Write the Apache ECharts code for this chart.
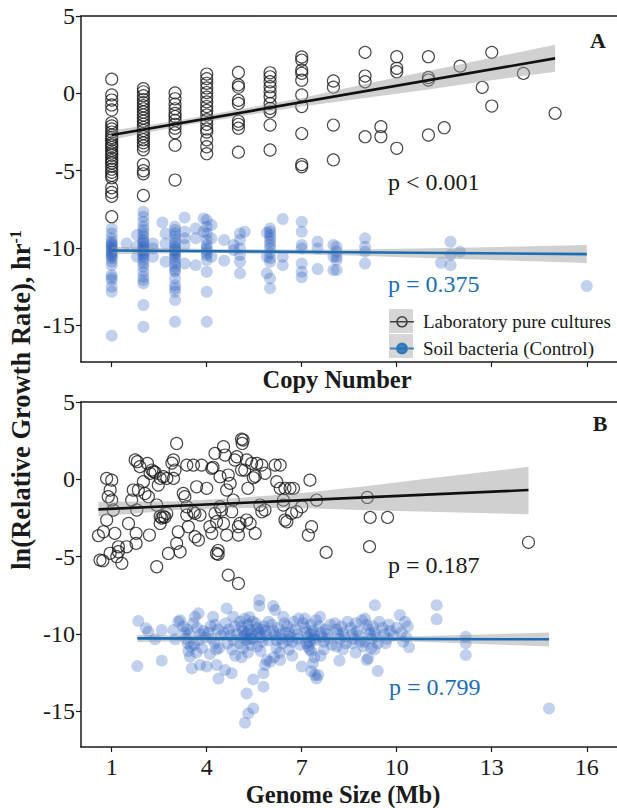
<!DOCTYPE html>
<html><head><meta charset="utf-8">
<script src="https://cdn.jsdelivr.net/npm/echarts@6/dist/echarts.min.js"></script>
<style>html,body{margin:0;padding:0;background:#fff}#c{width:617px;height:808px}</style>
</head><body><div id="c"></div>
<script>
// ---- data ----
const xTicks = [1, 4, 7, 10, 13, 16];
const yTicks = [-15, -10, -5, 0, 5];
const seriesNames = ['Laboratory pure cultures', 'Soil bacteria (Control)'];
const pLabels = ['p < 0.001', 'p = 0.375', 'p = 0.187', 'p = 0.799'];

// Panel A: copy number vs ln(rate), laboratory pure cultures
const labA = [
[1,0.92],[1,-0.1],[1,-0.43],[1,-0.75],[1,-1.07],[1,-1.9],[1,-2.1],[1,-2.3],[1,-2.5],[1,-2.7],[1,-2.85],[1,-3.0],[1,-3.2],[1,-3.35],[1,-3.5],[1,-3.7],[1,-3.85],[1,-4.0],[1,-4.2],[1,-4.35],[1,-4.5],[1,-4.7],[1,-4.9],[1,-5.1],[1,-5.3],[1,-5.45],[1,-6.1],[1,-6.4],[1,-6.65],[1,-7.97],
[2,0.3],[2,0.1],[2,-0.15],[2,-0.4],[2,-0.6],[2,-0.8],[2,-1.0],[2,-1.2],[2,-1.4],[2,-1.6],[2,-1.8],[2,-2.0],[2,-2.2],[2,-2.4],[2,-2.6],[2,-2.8],[2,-3.0],[2,-3.2],[2,-3.4],[2,-3.65],[2,-4.6],[2,-5.0],[2,-5.2],[2,-6.6],
[3,0.03],[3,-0.35],[3,-0.7],[3,-1.0],[3,-1.3],[3,-1.5],[3,-1.75],[3,-2.0],[3,-2.25],[3,-2.55],[3,-3.35],[3,-5.6],
[4,1.25],[4,0.95],[4,0.65],[4,0.35],[4,0.05],[4,-0.25],[4,-0.55],[4,-0.85],[4,-1.1],[4,-1.4],[4,-1.7],[4,-2.0],[4,-2.3],[4,-2.5],[4,-3.0],[4,-3.45],[4,-3.9],
[5,1.35],[5,0.55],[5,0.4],[5,-0.45],[5,-0.65],[5,-1.8],[5,-2.0],[5,-2.25],[5,-3.8],
[6,1.33],[6,1.07],[6,0.75],[6,0.43],[6,0.1],[6,-0.22],[6,-0.65],[6,-0.97],[6,-1.19],[6,-2.05],[6,-3.66],
[7,2.35],[7,2.15],[7,1.5],[7,1.3],[7,0.85],[7,-0.1],[7,-0.85],[7,-2.6],[7,-4.6],[7,-4.75],
[8,0.8],[8,0.4],[8,-2.05],[8,-4.3],
[9,2.65],[9,1.12],[9,0.75],[9,-2.8],
[9.5,-2.15],[9.5,-2.8],
[10,2.37],[10,1.62],[10,1.4],[10,-3.55],
[11,2.37],[11,1.03],[11,0.86],[11,-2.69],
[11.5,-2.22],[12,1.76],[12.7,0.39],[13,2.65],[13,-0.82],[14,1.29],[15,-1.29]
];

// Panel A: soil bacteria (control)
const soilA = [
[1,-8.73],[1,-9.05],[1,-9.37],[1,-9.59],[1,-9.7],[1,-9.8],[1,-9.9],[1,-10.02],[1,-10.1],[1,-10.23],[1,-10.35],[1,-10.45],[1,-10.55],[1,-10.66],[1,-10.88],[1,-11.1],[1,-11.74],[1,-11.9],[1,-12.06],[1,-12.5],[1,-12.82],[1,-15.66],
[1.47,-9.7],[1.8,-9.16],[1.8,-9.9],[1.8,-10.56],
[2,-7.65],[2,-7.97],[2,-8.3],[2,-8.62],[2,-8.83],[2,-9.05],[2,-9.26],[2,-9.48],[2,-9.6],[2,-9.7],[2,-9.91],[2,-10.0],[2,-10.13],[2,-10.2],[2,-10.34],[2,-10.45],[2,-10.56],[2,-10.77],[2,-10.99],[2,-11.2],[2,-11.53],[2,-11.85],[2,-12.07],[2,-12.28],[2,-13.68],[2,-15.08],
[2.3,-9.7],[2.3,-10.02],[2.3,-10.56],[2.6,-8.34],[2.7,-9.05],[2.7,-9.7],[2.7,-10.88],
[3,-8.62],[3,-8.83],[3,-9.05],[3,-9.26],[3,-9.48],[3,-9.7],[3,-9.91],[3,-10.0],[3,-10.13],[3,-10.2],[3,-10.34],[3,-10.45],[3,-10.56],[3,-10.77],[3,-10.99],[3,-11.2],[3,-11.42],[3,-11.53],[3,-11.96],[3,-12.39],[3,-12.6],[3,-12.82],[3,-13.36],[3,-14.76],
[3.3,-8.02],[3.3,-8.94],[3.3,-9.37],[3.3,-9.8],[3.3,-10.99],[3.65,-8.73],[3.65,-9.37],[3.65,-11.1],[3.9,-8.08],[3.9,-8.94],
[4,-8.19],[4,-8.62],[4,-9.05],[4,-9.48],[4,-9.8],[4,-10.0],[4,-10.13],[4,-10.3],[4,-10.45],[4,-10.77],[4,-11.53],[4,-12.82],[4,-14.76],
[4.15,-8.51],[4.15,-9.37],[4.15,-10.56],[4.55,-9.48],[4.55,-10.81],[4.85,-9.8],[4.85,-10.13],
[5.05,-9.05],[5.05,-9.48],[5.05,-10.02],[5.05,-10.45],[5.05,-10.88],[5.05,-11.63],[5.2,-8.94],
[5.9,-9.0],[5.9,-10.56],[5.9,-11.63],
[6,-8.73],[6,-8.94],[6,-9.16],[6,-9.37],[6,-9.59],[6,-9.8],[6,-10.02],[6,-10.34],[6,-10.66],[6,-10.88],[6,-11.96],[6,-12.6],
[6.4,-8.12],[6.4,-10.56],[6.4,-11.1],
[7,-8.3],[7,-8.94],[7,-9.8],[7,-10.02],[7,-10.99],[7,-11.53],[7,-11.89],
[7.5,-9.59],[7.5,-10.02],[7.5,-11.35],[8,-9.8],[8,-10.56],[8,-11.42],
[8.1,-9.91],[8.1,-10.23],[8.1,-10.56],[8.1,-10.77],[8.1,-11.42],
[9,-9.37],[9,-9.91],[9,-10.23],[9,-10.99],
[11.4,-10.95],[11.7,-9.59],[11.7,-10.45],[11.7,-11.1],[12,-10.23],[16,-12.45]
];

// Panel B: genome size (Mb) vs ln(rate), laboratory pure cultures
const labB = [
[0.58,-3.64],[0.74,-3.39],[0.63,-5.22],[0.72,-5.26],[0.84,0.06],[1.0,-0.05],[0.95,-0.69],[0.89,-1.12],[1.0,-1.34],[1.05,-1.98],[0.84,-2.63],[1.1,-3.49],[1.21,-4.36],[1.21,-4.68],[1.16,-5.0],[1.32,-5.43],[0.95,-4.78],
[1.47,-4.36],[1.53,-2.85],[1.63,-1.34],[1.68,-0.69],[1.74,1.25],[1.81,1.14],[1.89,0.82],[1.84,-0.69],[1.79,-1.98],[1.77,-3.49],[1.77,-4.14],
[2.0,-0.15],[2.05,-0.91],[2.13,1.03],[2.21,0.39],[2.27,0.6],[2.32,0.5],[2.37,0.45],[2.16,-1.12],[2.19,-3.6],[2.42,-5.65],[2.53,0.06],[2.47,-0.37],[2.63,0.17],[2.42,-1.66],
[2.53,-2.4],[2.58,-2.5],[2.63,-2.4],[2.68,-2.45],[2.74,-2.2],[2.53,-2.85],[2.74,0.06],[2.95,0.06],[2.95,1.25],[2.9,1.05],[3.05,2.32],[3.0,0.6],[2.79,-4.79],[3.1,-3.39],[3.16,-4.68],[3.05,-4.14],
[3.26,-0.91],[3.31,-1.12],[3.37,0.92],[3.37,-1.77],[3.37,-2.31],[3.42,-3.06],[3.58,0.92],[3.58,-2.1],[3.63,-2.2],[3.63,-3.71],[3.74,-3.92],[3.79,-2.31],[3.68,-0.48],[3.84,0.92],
[4.0,-0.58],[4.1,-3.06],[4.16,-3.49],[4.16,0.71],[4.2,0.78],[4.26,1.68],[4.31,-4.79],[4.36,-4.85],[4.42,0.17],[4.26,-2.2],[4.31,-2.74],[4.36,-4.6],[4.53,2.11],[4.58,1.57],[4.68,0.28],[4.74,-0.26],[4.63,-0.69],[4.42,-1.77],[4.47,-1.98],[4.53,-2.85],[4.63,-3.6],[4.68,-6.19],
[4.79,-2.09],[4.84,-1.34],[4.89,1.25],[4.95,1.46],[5.0,-3.6],[5.0,-3.06],[5.05,-2.85],[5.0,-6.73],[5.1,2.6],[5.15,2.54],[5.12,2.32],[5.2,0.6],[5.1,0.6],[5.26,1.25],[5.26,-2.63],[5.3,-0.58],[5.37,-2.85],[5.42,1.03],[5.47,0.1],[5.53,0.2],[5.58,1.03],[5.74,0.92],[5.84,0.39],[5.53,-3.49],[5.68,-1.66],[5.74,-2.09],[5.84,-1.98],
[6.16,0.92],[6.32,0.92],[6.21,-0.15],[6.32,-0.58],[6.47,-0.58],[6.63,-0.58],[6.74,-0.58],[6.42,-1.34],[6.42,-1.66],[6.47,-2.63],[6.53,-2.74],[6.68,-2.2],[6.84,-2.09],[7.0,-1.77],[7.26,-0.05],[7.47,-1.34],[7.31,-3.06],[7.21,-3.6],[7.77,-4.72],
[9.07,-1.17],[9.16,-2.46],[9.71,-2.46],[9.14,-4.35],[14.16,-4.07]
];

// Panel B: soil bacteria (control)
const soilB = [
[1.84,-9.16],[1.81,-12.07],[2.08,-9.63],[2.16,-9.85],[2.37,-10.34],[2.58,-9.74],[2.58,-11.72],[2.95,-9.74],[3.0,-10.34],
[3.1,-9.2],[3.16,-9.1],[3.26,-9.5],[3.3,-9.9],[3.35,-10.3],[3.4,-10.6],[3.42,-11.1],[3.47,-11.46],[3.53,-12.22],[3.45,-10.0],[3.5,-10.8],[3.38,-9.7],
[3.58,-9.3],[3.63,-8.88],[3.74,-8.66],[3.7,-9.6],[3.8,-10.0],[3.75,-10.4],[3.85,-10.9],[3.79,-12.0],[3.9,-9.8],[3.95,-10.2],[3.6,-10.7],[3.68,-11.2],
[4.0,-12.1],[4.1,-11.3],[4.2,-8.88],[4.26,-9.4],[4.31,-12.0],[4.37,-12.87],[4.05,-9.9],[4.15,-10.3],[4.25,-10.6],[4.35,-9.7],[4.45,-10.1],[4.4,-10.9],[4.12,-9.5],[4.3,-11.0],
[4.58,-12.33],[4.63,-8.34],[4.79,-12.54],[4.84,-8.88],[4.6,-9.3],[4.7,-9.7],[4.75,-10.1],[4.85,-10.4],[4.9,-9.5],[4.95,-10.0],[4.65,-10.6],[4.8,-11.0],[4.55,-9.9],[4.9,-11.4],
[5.05,-9.2],[5.1,-9.5],[5.15,-9.8],[5.2,-10.1],[5.25,-10.4],[5.3,-9.4],[5.35,-9.7],[5.4,-10.0],[5.45,-10.3],[5.05,-10.6],[5.15,-10.9],[5.3,-11.2],[5.4,-10.7],[5.1,-11.5],[5.26,-13.84],[5.21,-15.73],[5.31,-15.13],[5.47,-14.81],[5.47,-12.93],[5.2,-9.0],[5.35,-8.9],[5.45,-9.2],[5.12,-10.2],[5.28,-9.9],[5.38,-10.3],
[5.66,-7.8],[5.66,-8.19],[5.79,-12.54],[5.79,-13.4],[5.84,-12.0],[5.9,-11.68],[5.55,-9.3],[5.6,-9.6],[5.65,-9.9],[5.7,-10.2],[5.75,-10.5],[5.8,-9.5],[5.85,-9.8],[5.9,-10.1],[5.95,-10.4],[5.6,-10.8],[5.7,-11.1],[5.95,-9.2],[5.55,-10.0],[5.72,-9.7],
[6.1,-8.19],[6.16,-8.45],[6.32,-11.68],[6.42,-8.88],[6.05,-9.4],[6.1,-9.8],[6.15,-10.1],[6.2,-10.4],[6.25,-9.6],[6.3,-10.0],[6.35,-10.3],[6.4,-10.6],[6.45,-9.3],[6.2,-10.9],[6.3,-11.2],[6.48,-9.9],[6.12,-11.5],[6.0,-11.79],
[6.55,-9.5],[6.6,-9.9],[6.65,-10.2],[6.7,-10.5],[6.75,-9.2],[6.8,-9.7],[6.85,-10.0],[6.9,-10.3],[6.95,-10.7],[6.6,-11.0],[6.7,-11.4],[6.9,-9.0],[6.58,-10.4],
[7.0,-12.1],[7.05,-9.3],[7.1,-9.6],[7.15,-9.9],[7.2,-10.2],[7.25,-10.5],[7.3,-9.4],[7.35,-9.8],[7.4,-10.1],[7.45,-10.4],[7.2,-10.8],[7.3,-11.1],[7.4,-11.5],[7.35,-11.9],[7.47,-12.87],[7.42,-12.65],[7.3,-12.4],[7.1,-9.0],[7.45,-9.1],[7.25,-11.0],[7.15,-10.6],[7.28,-10.0],[7.38,-10.3],
[7.52,-12.65],[7.58,-8.88],[7.55,-9.5],[7.6,-9.9],[7.65,-10.2],[7.7,-10.5],[7.75,-9.7],[7.8,-10.0],[7.85,-10.3],[7.9,-9.4],[7.95,-10.7],[7.7,-11.0],[7.6,-11.4],
[8.05,-9.3],[8.1,-9.7],[8.15,-10.0],[8.19,-11.72],[8.2,-10.3],[8.25,-9.5],[8.3,-9.9],[8.35,-10.2],[8.4,-10.6],[8.45,-9.2],[8.3,-11.0],[8.1,-10.8],
[8.55,-9.6],[8.6,-10.0],[8.65,-10.3],[8.7,-9.3],[8.75,-9.8],[8.8,-10.1],[8.85,-10.5],[8.9,-9.1],[8.95,-10.8],[8.7,-11.2],[8.6,-10.6],
[9.0,-9.0],[9.05,-9.4],[9.1,-9.7],[9.1,-11.57],[9.15,-10.0],[9.2,-10.3],[9.25,-9.5],[9.3,-9.9],[9.31,-8.13],[9.35,-10.2],[9.4,-12.39],[9.4,-10.6],[9.45,-9.2],[9.2,-10.9],[9.0,-10.5],[9.3,-11.0],[9.05,-11.68],
[9.55,-9.6],[9.6,-10.0],[9.7,-10.3],[9.75,-9.4],[9.8,-9.8],[9.9,-10.1],[10.0,-9.6],[10.1,-8.77],[10.15,-9.9],[10.26,-9.2],[10.3,-10.2],[10.35,-9.5],[10.39,-10.86],[10.2,-10.5],[9.65,-10.6],
[11.26,-8.13],[11.26,-9.05],[12.18,-10.17],[12.18,-10.6],[12.18,-11.36],[14.81,-14.81]
];

// fitted lines and 95% bands: [x, lower, upper]
const fitLabA = [[1,-2.69],[15,2.26]];
const bandLabA = [[1,-3.0,-2.4],[3,-2.18,-1.78],[5,-1.5,-1.05],[7,-0.85,-0.3],[9,-0.3,0.6],[11,0.25,1.45],[13,0.85,2.3],[15,1.4,3.15]];
const fitSoilA = [[1,-10.15],[16,-10.39]];
const bandSoilA = [[1,-10.4,-9.92],[4,-10.3,-10.05],[8,-10.45,-10.1],[12,-10.7,-9.98],[16,-10.97,-9.8]];
const fitLabB = [[0.58,-1.94],[14.16,-0.69]];
const bandLabB = [[0.58,-2.4,-1.45],[3,-2.0,-1.42],[5,-1.85,-1.2],[7,-1.85,-0.88],[9,-2.0,-0.45],[11,-2.1,0.05],[14.16,-2.26,0.81]];
const fitSoilB = [[1.81,-10.28],[14.81,-10.34]];
const bandSoilB = [[1.81,-10.52,-10.05],[6,-10.38,-10.2],[10,-10.45,-10.18],[14.81,-10.8,-9.9]];

// ---- styles ----
const SERIF = 'Liberation Serif, Times New Roman, serif';
const INK = '#1a1a1a';
const BLUE = '#1b6db5';
const PTBLUE = 'rgba(40,90,190,0.36)';
const X_MIN = 0.03, X_MAX = 16.955;

function xAxisBottom(gi, showLabels) {
  return { type: 'value', gridIndex: gi, position: 'bottom', min: X_MIN, max: X_MAX,
    axisLine: { show: true, onZero: false, lineStyle: { color: INK, width: 1.5 } },
    axisTick: { show: true, length: 5, customValues: xTicks, lineStyle: { color: INK, width: 1.2 } },
    axisLabel: { show: showLabels, customValues: xTicks, margin: 8, fontSize: 24, fontFamily: SERIF, color: INK },
    splitLine: { show: false } };
}
function xAxisTop(gi) {
  return { type: 'value', gridIndex: gi, position: 'top', min: X_MIN, max: X_MAX,
    axisLine: { show: true, onZero: false, lineStyle: { color: INK, width: 1.5 } },
    axisTick: { show: false }, axisLabel: { show: false }, splitLine: { show: false } };
}
function yAxis(gi, min) {
  return { type: 'value', gridIndex: gi, min: min, max: 5,
    axisLine: { show: true, onZero: false, lineStyle: { color: INK, width: 1.5 } },
    axisTick: { show: true, length: 5, customValues: yTicks, lineStyle: { color: INK, width: 1.2 } },
    axisLabel: { customValues: yTicks, margin: 6, fontSize: 24, fontFamily: SERIF, color: INK },
    splitLine: { show: false } };
}
function labSeries(data, gi) {
  return { name: seriesNames[0], type: 'scatter', xAxisIndex: gi * 2, yAxisIndex: gi, data: data,
    symbol: 'circle', symbolSize: 12, z: 2,
    itemStyle: { color: 'rgba(0,0,0,0)', borderColor: INK, borderWidth: 1.15 } };
}
function soilSeries(data, gi) {
  return { name: seriesNames[1], type: 'scatter', xAxisIndex: gi * 2, yAxisIndex: gi, data: data,
    symbol: 'circle', symbolSize: 12, z: 2, itemStyle: { color: PTBLUE, borderWidth: 0 } };
}
function bandSeries(band, gi) {
  return { type: 'custom', xAxisIndex: gi * 2, yAxisIndex: gi, silent: true, z: 3,
    data: [[band[0][0], band[0][1]]],
    renderItem: function (params, api) {
      const up = band.map(d => api.coord([d[0], d[2]]));
      const lo = band.slice().reverse().map(d => api.coord([d[0], d[1]]));
      return { type: 'polygon', shape: { points: up.concat(lo) }, style: { fill: 'rgba(150,150,150,0.45)' } };
    } };
}
function fitSeries(data, gi, color) {
  return { type: 'line', xAxisIndex: gi * 2, yAxisIndex: gi, data: data, showSymbol: false, silent: true, z: 4,
    lineStyle: { color: color, width: 2.6 } };
}

const chart = echarts.init(document.getElementById('c'), null, { renderer: 'svg' });
const iconPath = 'path://M0,0M24,24M0,12L24,12M17,12A5,5,0,1,1,7,12A5,5,0,1,1,17,12Z';
chart.setOption({
  animation: false,
  backgroundColor: '#fff',
  grid: [
    { left: 81, top: 16, width: 536, height: 346 },
    { left: 81, top: 402, width: 536, height: 345 }
  ],
  xAxis: [xAxisBottom(0, false), xAxisTop(0), xAxisBottom(1, true), xAxisTop(1)],
  yAxis: [yAxis(0, -17.36), yAxis(1, -17.3)],
  legend: {
    orient: 'vertical', left: 389, top: 309, padding: 0, itemWidth: 24, itemHeight: 24, itemGap: 1,
    selectedMode: false,
    textStyle: { fontFamily: SERIF, fontSize: 19, color: INK, padding: [0, 0, 0, 4] },
    data: [
      { name: seriesNames[0], icon: iconPath, itemStyle: { color: 'rgba(0,0,0,0)', borderColor: INK, borderWidth: 1.6 } },
      { name: seriesNames[1], icon: iconPath, itemStyle: { color: BLUE, borderColor: BLUE, borderWidth: 2 } }
    ]
  },
  graphic: [
    { type: 'rect', z: 0, shape: { x: 389, y: 309, width: 24, height: 24 }, style: { fill: '#d6d6d6' } },
    { type: 'rect', z: 0, shape: { x: 389, y: 334, width: 24, height: 24 }, style: { fill: '#d6d6d6' } },
    { type: 'text', x: 388, y: 182, style: { text: pLabels[0], font: '24px ' + SERIF, fill: INK, textVerticalAlign: 'middle' } },
    { type: 'text', x: 388, y: 284, style: { text: pLabels[1], font: '24px ' + SERIF, fill: BLUE, textVerticalAlign: 'middle' } },
    { type: 'text', x: 388, y: 565, style: { text: pLabels[2], font: '24px ' + SERIF, fill: INK, textVerticalAlign: 'middle' } },
    { type: 'text', x: 389, y: 687, style: { text: pLabels[3], font: '24px ' + SERIF, fill: BLUE, textVerticalAlign: 'middle' } },
    { type: 'text', x: 598, y: 40, style: { text: 'A', font: 'bold 22px ' + SERIF, fill: INK, textAlign: 'center', textVerticalAlign: 'middle' } },
    { type: 'text', x: 600, y: 423, style: { text: 'B', font: 'bold 22px ' + SERIF, fill: INK, textAlign: 'center', textVerticalAlign: 'middle' } },
    { type: 'text', x: 337, y: 379, style: { text: 'Copy Number', font: 'bold 24.5px ' + SERIF, fill: INK, textAlign: 'center', textVerticalAlign: 'middle' } },
    { type: 'text', x: 343, y: 794, style: { text: 'Genome Size (Mb)', font: 'bold 24.5px ' + SERIF, fill: INK, textAlign: 'center', textVerticalAlign: 'middle' } },
    { type: 'text', x: 21, y: 400, rotation: Math.PI / 2,
      style: { text: 'ln(Relative Growth Rate), hr{sup|-1}', fill: INK, textAlign: 'center', textVerticalAlign: 'middle',
        fontFamily: SERIF, fontWeight: 'bold', fontSize: 26.5,
        rich: { sup: { fontFamily: SERIF, fontWeight: 'bold', fontSize: 16, verticalAlign: 'top', lineHeight: 26 } } } }
  ],
  series: [
    labSeries(labA, 0), soilSeries(soilA, 0),
    bandSeries(bandLabA, 0), bandSeries(bandSoilA, 0),
    fitSeries(fitLabA, 0, '#111'), fitSeries(fitSoilA, 0, BLUE),
    labSeries(labB, 1), soilSeries(soilB, 1),
    bandSeries(bandLabB, 1), bandSeries(bandSoilB, 1),
    fitSeries(fitLabB, 1, '#111'), fitSeries(fitSoilB, 1, BLUE)
  ]
});
</script></body></html>
